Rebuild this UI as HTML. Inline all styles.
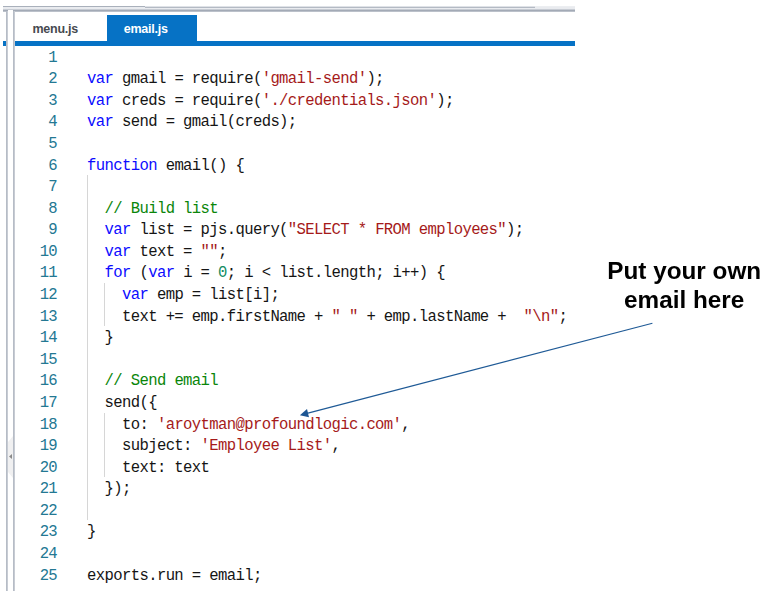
<!DOCTYPE html>
<html><head><meta charset="utf-8"><title>email.js</title>
<style>
html,body{margin:0;padding:0;background:#fff;}
body{width:763px;height:597px;position:relative;overflow:hidden;font-family:"Liberation Sans",sans-serif;}
.abs{position:absolute;}
.ln,.cl{position:absolute;font-family:"Liberation Mono",monospace;font-size:15.6px;letter-spacing:-0.63px;line-height:21.583px;height:21.583px;white-space:pre;}
.ln{left:0;width:57.1px;text-align:right;color:#237893;}
.cl{left:87.1px;color:#151515;}
.vl{width:2px;background:linear-gradient(to right,#b6bcc6,#b6bcc6 1.1px,#dcdfe4 2px);z-index:3}
.g{position:absolute;width:1px;background:#d6d6d6;}
.tab{position:absolute;font-weight:bold;font-size:12.5px;line-height:28px;height:26px;top:15px;white-space:pre;letter-spacing:-0.26px;box-sizing:border-box}
</style></head><body>
<!-- frame -->
<div class="abs" style="left:3px;top:6px;width:572px;height:6px;background:linear-gradient(#e9ebef,#e9ebef 3.2px,#bcc1ca 3.6px,#a3aab6 4.1px,#a3aab6 5.2px,#dcdfe4 5.9px,#fff 6px)"></div>
<div class="abs" style="left:3px;top:6px;width:142px;height:1px;background:#a9b0bb"></div>
<div class="abs" style="left:145px;top:6px;width:390px;height:1px;background:#dfe2e7"></div>
<div class="abs" style="left:145px;top:7px;width:390px;height:1px;background:#b4bac4"></div>
<div class="abs" style="left:535px;top:6px;width:40px;height:1px;background:#eceef1"></div>
<div class="abs" style="left:8px;top:9.6px;width:5px;height:3px;background:#fff"></div>
<div class="abs vl" style="left:6px;top:10.5px;height:580px"></div>
<div class="abs vl" style="left:13px;top:10.5px;height:580px"></div>
<!-- splitter handle -->
<svg class="abs" style="left:8px;top:436px" width="5" height="42" viewBox="0 0 5 42"><polygon points="0,6 5,0 5,42 0,36" fill="#f0f0f1"/><polygon points="1,20.5 4,18 4,23" fill="#8a8a8a"/></svg>
<!-- blue bar -->
<div class="abs" style="left:3px;top:41px;width:572px;height:5px;background:#0672c5"></div>

<div class="abs" style="left:8px;top:40px;width:5px;height:7px;background:#fff"></div>

<div class="tab" style="left:15px;width:92px;padding-left:17.5px;color:#464a50">menu.js</div>
<div class="tab" style="left:107.3px;width:90.2px;padding-left:16.5px;background:#0672c5;color:#fff">email.js</div>

<div class="g" style="left:87.2px;top:175.10px;height:345.33px"></div>
<div class="g" style="left:104.2px;top:283.01px;height:43.17px"></div>
<div class="g" style="left:104.2px;top:412.51px;height:64.75px"></div>

<div class="ln" style="top:47.60px">1</div>
<div class="ln" style="top:69.18px">2</div>
<div class="cl" style="top:69.18px"><span style="color:#0c0cff">var</span> gmail = require(<span style="color:#a51a1a">&#x27;gmail-send&#x27;</span>);</div>
<div class="ln" style="top:90.77px">3</div>
<div class="cl" style="top:90.77px"><span style="color:#0c0cff">var</span> creds = require(<span style="color:#a51a1a">&#x27;./credentials.json&#x27;</span>);</div>
<div class="ln" style="top:112.35px">4</div>
<div class="cl" style="top:112.35px"><span style="color:#0c0cff">var</span> send = gmail(creds);</div>
<div class="ln" style="top:133.93px">5</div>
<div class="ln" style="top:155.51px">6</div>
<div class="cl" style="top:155.51px"><span style="color:#0c0cff">function</span> email() {</div>
<div class="ln" style="top:177.10px">7</div>
<div class="ln" style="top:198.68px">8</div>
<div class="cl" style="top:198.68px">  <span style="color:#0a860a">// Build list</span></div>
<div class="ln" style="top:220.26px">9</div>
<div class="cl" style="top:220.26px">  <span style="color:#0c0cff">var</span> list = pjs.query(<span style="color:#a51a1a">&quot;SELECT * FROM employees&quot;</span>);</div>
<div class="ln" style="top:241.85px">10</div>
<div class="cl" style="top:241.85px">  <span style="color:#0c0cff">var</span> text = <span style="color:#a51a1a">&quot;&quot;</span>;</div>
<div class="ln" style="top:263.43px">11</div>
<div class="cl" style="top:263.43px">  <span style="color:#0c0cff">for</span> (<span style="color:#0c0cff">var</span> i = <span style="color:#128c62">0</span>; i &lt; list.length; i++) {</div>
<div class="ln" style="top:285.01px">12</div>
<div class="cl" style="top:285.01px">    <span style="color:#0c0cff">var</span> emp = list[i];</div>
<div class="ln" style="top:306.60px">13</div>
<div class="cl" style="top:306.60px">    text += emp.firstName + <span style="color:#a51a1a">&quot; &quot;</span> + emp.lastName +  <span style="color:#a51a1a">&quot;\n&quot;</span>;</div>
<div class="ln" style="top:328.18px">14</div>
<div class="cl" style="top:328.18px">  }</div>
<div class="ln" style="top:349.76px">15</div>
<div class="ln" style="top:371.35px">16</div>
<div class="cl" style="top:371.35px">  <span style="color:#0a860a">// Send email</span></div>
<div class="ln" style="top:392.93px">17</div>
<div class="cl" style="top:392.93px">  send({</div>
<div class="ln" style="top:414.51px">18</div>
<div class="cl" style="top:414.51px">    to: <span style="color:#a51a1a">&#x27;aroytman@profoundlogic.com&#x27;</span>,</div>
<div class="ln" style="top:436.09px">19</div>
<div class="cl" style="top:436.09px">    subject: <span style="color:#a51a1a">&#x27;Employee List&#x27;</span>,</div>
<div class="ln" style="top:457.68px">20</div>
<div class="cl" style="top:457.68px">    text: text</div>
<div class="ln" style="top:479.26px">21</div>
<div class="cl" style="top:479.26px">  });</div>
<div class="ln" style="top:500.84px">22</div>
<div class="ln" style="top:522.43px">23</div>
<div class="cl" style="top:522.43px">}</div>
<div class="ln" style="top:544.01px">24</div>
<div class="ln" style="top:565.59px">25</div>
<div class="cl" style="top:565.59px">exports.run = email;</div>
<!-- annotation -->
<div class="abs" style="left:600px;top:256.8px;width:168.4px;text-align:center;font-weight:bold;font-size:24.3px;line-height:28.8px;color:#000;will-change:transform">Put your own<br>email here</div>
<svg class="abs" style="left:0;top:0" width="763" height="597" viewBox="0 0 763 597">
<line x1="652.4" y1="323.3" x2="307" y2="413.4" stroke="#1f5a96" stroke-width="1.15"/>
<polygon points="299.9,415.3 307,409.1 309,417.3" fill="#1c5593"/>
</svg>
</body></html>
